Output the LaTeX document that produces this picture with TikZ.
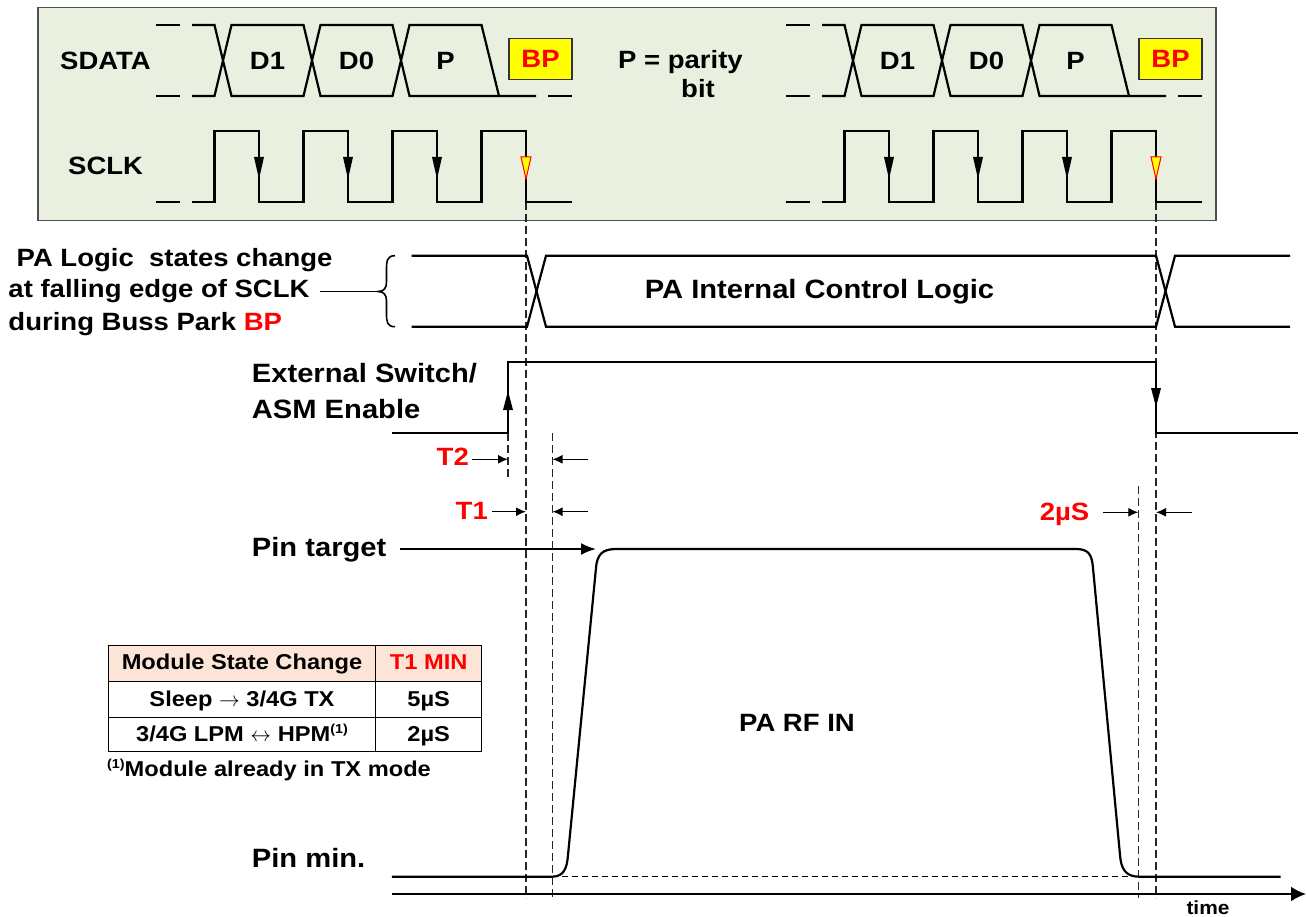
\documentclass[tikz,border=0pt]{standalone}
\usepackage{fontspec}
\setmainfont{Liberation Sans}[FakeStretch=1.1]
\usetikzlibrary{arrows.meta}
\definecolor{boxfill}{RGB}{234,240,224}
\definecolor{boxline}{RGB}{80,80,80}
\definecolor{hdrfill}{RGB}{252,228,214}
\definecolor{bpred}{RGB}{255,0,0}
\definecolor{bpyel}{RGB}{255,255,0}
\tikzset{
  sig/.style={line width=2.2pt, line join=miter},
  vdash/.style={line width=1.5pt, dash pattern=on 8pt off 4pt, black!85},
  lbl/.style={font=\bfseries\fontsize{25}{30}\selectfont, inner sep=0pt},
  lblb/.style={font=\bfseries\fontsize{26.5}{32}\selectfont, inner sep=0pt},
  tbl/.style={font=\bfseries\fontsize{21.5}{26}\selectfont, inner sep=0pt},
  redlbl/.style={lbl, text=bpred},
  tarr/.style={line width=1.3pt, -{Latex[length=10pt,width=9pt]}},
  bpbox/.style={draw=black!80, line width=1.2pt, fill=bpyel, text=bpred,
    minimum width=63pt, minimum height=41pt, inner sep=0pt,
    font=\bfseries\fontsize{25}{30}\selectfont},
}
\begin{document}
\begin{tikzpicture}[x=1pt,y=-1pt]
\useasboundingbox (0,0) rectangle (1306,917);
\fill[white] (0,0) rectangle (1306,917);
% top box
\draw[fill=boxfill, draw=boxline, line width=1.5pt] (38,7.5) rectangle (1216,220.5);
\node[lbl, anchor=base west] (sdata) at (60,69.5) {SDATA};
\node[lbl, anchor=base west] (sclk) at (68,175) {SCLK};
\node[lbl, anchor=base west] (par1) at (618,68.3) {P = parity};
\node[lbl, anchor=base west] (par2) at (681,98) {bit};
% dashed verticals
\draw[vdash] (526,202) -- (526,898);
\draw[vdash] (552.5,433) -- (552.5,898);
\draw[vdash] (508,433) -- (508,477);
\draw[vdash] (1138.3,486) -- (1138.3,898);
\draw[vdash] (1156,202) -- (1156,898);
% two bus transactions
\foreach \o in {0,630} {
\begin{scope}[xshift=\o pt]
  \draw[sig] (156,25) -- (180,25);
  \draw[sig] (156,96) -- (180,96);
  \draw[sig] (192,25) -- (214.5,25) -- (231.5,96) -- (303.5,96) -- (320.5,25) -- (392.5,25) -- (409.5,96) -- (481.5,96) -- (536,96);
  \draw[sig] (192,96) -- (214.5,96) -- (231.5,25) -- (303.5,25) -- (320.5,96) -- (392.5,96) -- (409.5,25) -- (481.5,25) -- (499,96);
  \draw[sig] (548,96) -- (572,96);
  \node[lbl, anchor=base] (dA\o) at (267.5,69.5) {D1};
  \node[lbl, anchor=base] (dB\o) at (356.5,69.5) {D0};
  \node[lbl, anchor=base] (dP\o) at (445.5,69.5) {P};
  \node[bpbox] (bp\o) at (540.5,58.7) {BP};
  % SCLK
  \draw[sig] (156,202) -- (180,202);
  \draw[sig] (192,202) -- (214.5,202) -- (214.5,131) -- (259,131) -- (259,202) -- (303.5,202) -- (303.5,131) -- (348,131) -- (348,202) -- (392.5,202) -- (392.5,131) -- (437,131) -- (437,202) -- (481.5,202) -- (481.5,131) -- (526,131) -- (526,202) -- (572,202);
  \foreach \x in {259,348,437} {
    \fill (\x-5,157) -- (\x+5,157) -- (\x,179) -- cycle;
  }
  \filldraw[fill=bpyel, draw=bpred, line width=1pt] (521,157) -- (531,157) -- (526,179) -- cycle;
\end{scope}
}
% PA logic text and brace
\node[lbl, anchor=base west] (pal1) at (16.5,266.5) {PA Logic\ \ states change};
\node[lbl, anchor=base west] (pal2) at (8.3,298) {at falling edge of SCLK};
\node[lbl, anchor=base west] (pal3) at (8.3,330) {during Buss Park \textcolor{bpred}{BP}};
\coordinate (bracetip) at (378,291.5);
\draw[line width=1.8pt] (320,291.5) -- (bracetip);
\draw[line width=1.6pt] (395,255.7) .. controls (387,255.7) and (386.5,261) .. (386.5,270) -- (386.5,282) .. controls (386.5,288) and (384,291.5) .. (bracetip) .. controls (384,291.5) and (386.5,295) .. (386.5,301) -- (386.5,313) .. controls (386.5,322) and (387,326.7) .. (395,326.7);
% PA internal control logic
\draw[sig] (411.5,255.7) -- (527,255.7) -- (546,326.7) -- (1156,326.7) -- (1175,255.7) -- (1290,255.7);
\draw[sig] (411.5,326.7) -- (527,326.7) -- (546,255.7) -- (1156,255.7) -- (1175,326.7) -- (1290,326.7);
\node[lblb, anchor=base] (pail) at (819.5,298.5) {PA Internal Control Logic};
% external switch
\node[lblb, anchor=base west] (ext1) at (251.7,382) {External Switch/};
\node[lblb, anchor=base west] (ext2) at (251.7,418.5) {ASM Enable};
\draw[sig] (391.7,433.3) -- (508,433.3) -- (508,362.3) -- (1156,362.3) -- (1156,433.3) -- (1298,433.3);
\fill (503,410) -- (513,410) -- (508,391) -- cycle;
\fill (1151,388) -- (1161,388) -- (1156,407) -- cycle;
% timing labels
\node[redlbl, anchor=base east] (t2) at (469,465.7) {T2};
\node[redlbl, anchor=base east] (t1) at (488,519) {T1};
\node[redlbl, anchor=base east] (t2us) at (1089.5,520.5) {2µS};
\coordinate (t2a) at (472,459.3); \coordinate (t2b) at (508,459.3);
\coordinate (t2c) at (588,459.3); \coordinate (t2d) at (552.5,459.3);
\coordinate (t1a) at (492,511.7); \coordinate (t1b) at (526,511.7);
\coordinate (t1c) at (588,511.7); \coordinate (t1d) at (552.5,511.7);
\coordinate (usa) at (1103,512.3); \coordinate (usb) at (1138.3,512.3);
\coordinate (usc) at (1192,512.3); \coordinate (usd) at (1156,512.3);
\draw[tarr] (t2a) -- (t2b);
\draw[tarr] (t2c) -- (t2d);
\draw[tarr] (t1a) -- (t1b);
\draw[tarr] (t1c) -- (t1d);
\draw[tarr] (usa) -- (usb);
\draw[tarr] (usc) -- (usd);
% pin target
\node[lblb, anchor=base west] (pint) at (251.7,556.2) {Pin target};
\coordinate (pinarrow) at (596,549);
\draw[line width=2pt, -{Latex[length=15pt,width=12pt]}] (400,549) -- (pinarrow);
% RF pulse
\draw[line width=1.2pt, dash pattern=on 6pt off 4pt] (552,876.7) -- (1139,876.7);
\draw[sig, line join=round] (391.8,876.7) -- (552,876.7) .. controls (564,876.7) and (567,868) .. (568,855) -- (596,568) .. controls (597,554) and (603,549) .. (616,549) -- (1076,549) .. controls (1088,549) and (1092,554) .. (1093,568) -- (1120,855) .. controls (1121,868) and (1125,876.7) .. (1139,876.7) -- (1280.6,876.7);
\node[lbl, anchor=base] (rfin) at (797,731.5) {PA RF IN};
\node[lblb, anchor=base west] (pinmin) at (251.7,867.5) {Pin min.};
% time axis
\coordinate (tend) at (1306,894);
\draw[line width=2.4pt, -{Latex[length=15pt,width=15pt]}] (391.8,894) -- (tend);
\node[font=\bfseries\fontsize{19}{22}\selectfont, inner sep=0pt, anchor=base] (time) at (1208,914) {time};
% table
\fill[hdrfill] (108.3,645.7) rectangle (481.7,681.7);
\draw[line width=1.3pt] (108.3,645.7) rectangle (481.7,751.7);
\draw[line width=1.3pt] (108.3,681.7) -- (481.7,681.7);
\draw[line width=1.3pt] (108.3,717.7) -- (481.7,717.7);
\draw[line width=1.3pt] (375.7,645.7) -- (375.7,751.7);
\node[tbl, anchor=base] (h1) at (242,669.9) {Module State Change};
\node[tbl, anchor=base, text=bpred] (h2) at (428.7,669.9) {T1 MIN};
\node[tbl, anchor=base] (r1a) at (242,706.7) {Sleep {\fontsize{20}{20}\selectfont$\rightarrow$} 3/4G TX};
\node[tbl, anchor=base] (r1b) at (428.7,706.7) {5µS};
\node[tbl, anchor=base] (r2a) at (242,741.7) {3/4G LPM {\fontsize{20}{20}\selectfont$\leftrightarrow$} HPM\raisebox{8pt}{\fontsize{13}{13}\selectfont(1)}};
\node[tbl, anchor=base] (r2b) at (428.7,741.7) {2µS};
\node[tbl, anchor=base west] (foot) at (107,776.7) {\raisebox{8pt}{\fontsize{13}{13}\selectfont(1)}Module already in TX mode};
\end{tikzpicture}
\end{document}
